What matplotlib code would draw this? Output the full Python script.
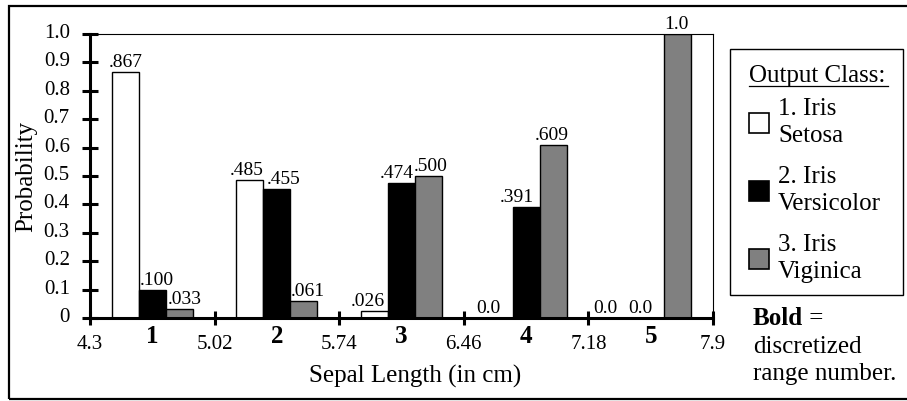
import matplotlib
matplotlib.use("Agg")
from matplotlib import pyplot as plt
import matplotlib.patches as patches
from matplotlib.transforms import Affine2D, ScaledTranslation
import numpy as np

plt.rcParams['font.family'] = ['Liberation Serif', 'DejaVu Serif']

# bin edges of sepal length and the discretized range numbers
edges = [4.3, 5.02, 5.74, 6.46, 7.18, 7.9]
edge_labels = ['4.3', '5.02', '5.74', '6.46', '7.18', '7.9']
range_numbers = ['1', '2', '3', '4', '5']

# probability of each output class in every range
setosa = [0.867, 0.485, 0.026, 0.0, 0.0]
versicolor = [0.100, 0.455, 0.474, 0.391, 0.0]
virginica = [0.033, 0.061, 0.500, 0.609, 1.0]
setosa_text = ['.867', '.485', '.026', '0.0', '0.0']
versicolor_text = ['.100', '.455', '.474', '.391', '0.0']
virginica_text = ['.033', '.061', '.500', '.609', '1.0']

class_names = ['1. Iris\nSetosa', '2. Iris\nVersicolor', '3. Iris\nViginica']
yticks = [0, 0.1, 0.2, 0.3, 0.4, 0.5, 0.6, 0.7, 0.8, 0.9, 1.0]
ytick_labels = ['0', '0.1', '0.2', '0.3', '0.4', '0.5', '0.6', '0.7', '0.8', '0.9', '1.0']

# horizontal nudges of the value labels (pixels) so neighbours don't collide
nudges = [[0, -3, -7, -11, -18],
          [5, 7, -5, -9, -10],
          [5, 4, 2, -1, -1]]

W, H = 907, 401
fig = plt.figure(figsize=(W / 100, H / 100), dpi=100)
# pixel coords with origin at top-left
px = Affine2D().scale(1 / W, -1 / H).translate(0, 1) + fig.transFigure

ax = fig.add_axes([90 / W, (H - 318) / H, 623 / W, 284 / H])

centers = (np.array(edges[:-1]) + np.array(edges[1:])) / 2
bw = 0.156
colors = ['white', 'black', '#808080']
series = [setosa, versicolor, virginica]
texts = [setosa_text, versicolor_text, virginica_text]

for k, (vals, labs, c) in enumerate(zip(series, texts, colors)):
    xs = centers + (k - 1) * bw
    ax.bar(xs, vals, width=bw, color=c, edgecolor='black', linewidth=1.0, zorder=2)
    for x, v, t, dx in zip(xs, vals, labs, nudges[k]):
        ax.annotate(t, (x, v), xytext=(dx * 0.72, 3.6), textcoords='offset points',
                    ha='center', va='baseline', fontsize=14, clip_on=False)

ax.set_xlim(edges[0], edges[-1])
ax.set_ylim(0, 1.0)
ax.set_xticks(edges)
ax.set_xticklabels(edge_labels, fontsize=15)
ax.set_yticks(yticks)
ax.set_yticklabels(ytick_labels, fontsize=15)
ax.tick_params(axis='y', direction='inout', length=11, width=2.2, pad=9)
ax.tick_params(axis='x', direction='inout', length=10, width=2.2, pad=7)
lift = ScaledTranslation(0, 3 / 100, fig.dpi_scale_trans)
for t in ax.get_yticklabels():
    t.set_transform(t.get_transform() + lift)

for side in ['left', 'bottom']:
    ax.spines[side].set_linewidth(2.2)
for side in ['top', 'right']:
    ax.spines[side].set_linewidth(0.8)

# bold range numbers under each bin
for x, n in zip(centers, range_numbers):
    ax.annotate(n, (x, 0), xycoords=('data', 'axes fraction'), xytext=(0, -18),
                textcoords='offset points', ha='center', va='baseline',
                fontsize=18, fontweight='bold', annotation_clip=False)

ax.set_ylabel('Probability', fontsize=18)
ax.yaxis.set_label_coords(-0.085, 0.5)
fig.text(415, 383, 'Sepal Length (in cm)', transform=px, ha='center',
         va='baseline', fontsize=18)

# legend box
fig.patches.append(patches.Rectangle((730, 295), 173, -246, transform=px,
                                     facecolor='none', edgecolor='black', lw=1.0))
fig.text(749, 82, 'Output Class:', transform=px, ha='left', va='baseline', fontsize=18)
fig.lines.append(plt.Line2D([749, 888], [86, 86], transform=px, color='black', lw=0.9))
square_tops = [113, 181, 249]
text_tops = [115, 183, 251]
for c, name, sy, ty in zip(colors, class_names, square_tops, text_tops):
    fig.patches.append(patches.Rectangle((749, sy + 20), 20, -20, transform=px,
                                         facecolor=c, edgecolor='black', lw=1.2))
    l1, l2 = name.split('\n')
    fig.text(778, ty, l1, transform=px, ha='left', va='baseline', fontsize=18)
    fig.text(778, ty + 27, l2, transform=px, ha='left', va='baseline', fontsize=18)

bold = fig.text(753, 325, 'Bold', transform=px, ha='left', va='baseline',
                fontsize=18, fontweight='bold')
ax.annotate(' =', xy=(1, 0), xycoords=bold, ha='left', va='bottom', fontsize=18,
            annotation_clip=False)
fig.text(753, 353, 'discretized', transform=px, ha='left', va='baseline', fontsize=18)
fig.text(753, 380, 'range number.', transform=px, ha='left', va='baseline', fontsize=18)

# outer frame
fig.patches.append(patches.Rectangle((9, 399), 910, -393, transform=px,
                                     facecolor='none', edgecolor='black', lw=1.6))

fig.savefig('out.png', dpi=100)
